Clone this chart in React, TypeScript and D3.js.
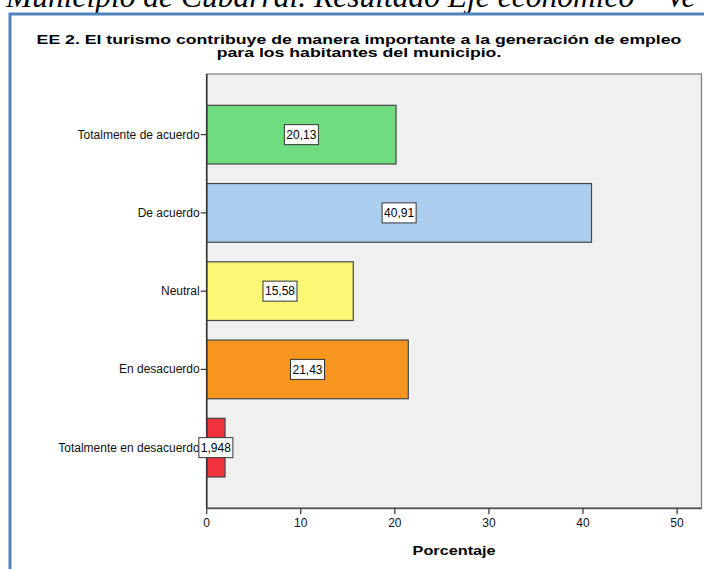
import React, { useEffect, useRef } from "react";
import * as d3 from "d3";

const categories = [
  "Totalmente de acuerdo",
  "De acuerdo",
  "Neutral",
  "En desacuerdo",
  "Totalmente en desacuerdo",
];
const values = [20.13, 40.91, 15.58, 21.43, 1.948];
const valueLabels = ["20,13", "40,91", "15,58", "21,43", "1,948"];
const barColors = ["#70dc80", "#abcdee", "#faf875", "#f7961e", "#f0323c"];
const xTicks = [0, 10, 20, 30, 40, 50];
const xMax = 52.6;
const titleLines = [
  "EE 2. El turismo contribuye de manera importante a la generación de empleo",
  "para los habitantes del municipio.",
];
const pageHeading = "Municipio de Cubarral. Resultado Eje económico – Ve";
const xAxisTitle = "Porcentaje";

const W = 704;
const H = 569;
const plot = { left: 206.7, right: 701.5, top: 74, bottom: 508.3 };
const SANS = "'Liberation Sans', Arial, sans-serif";

export default function App() {
  const ref = useRef<SVGSVGElement | null>(null);

  useEffect(() => {
    const svg = d3.select(ref.current);
    svg.selectAll("*").remove();

    svg.append("rect").attr("width", W).attr("height", H).attr("fill", "#ffffff");

    // page heading (cut off by the page top)
    svg
      .append("text")
      .attr("x", 6)
      .attr("y", 6.5)
      .attr("font-family", "'Liberation Serif', 'Times New Roman', serif")
      .attr("font-style", "italic")
      .attr("font-size", 31.5)
      .attr("fill", "#000")
      .text(pageHeading);

    // blue frame
    svg
      .append("rect")
      .attr("x", 10)
      .attr("y", 14)
      .attr("width", W + 40)
      .attr("height", H + 40)
      .attr("fill", "#ffffff")
      .attr("stroke", "#4f81bd")
      .attr("stroke-width", 3);

    // title
    titleLines.forEach((line, i) => {
      svg
        .append("g")
        .attr("transform", `translate(359,${43.5 + i * 13.5}) scale(1.36,1)`)
        .append("text")
        .attr("text-anchor", "middle")
        .attr("font-family", SANS)
        .attr("font-weight", "bold")
        .attr("font-size", 13)
        .attr("fill", "#000")
        .text(line);
    });

    const x = d3.scaleLinear().domain([0, xMax]).range([plot.left, plot.right]);
    const y = d3
      .scaleBand<string>()
      .domain(categories)
      .range([plot.top, plot.bottom])
      .paddingInner(0.25)
      .paddingOuter(0.4);

    // plot background
    svg
      .append("rect")
      .attr("x", plot.left)
      .attr("y", plot.top)
      .attr("width", plot.right - plot.left)
      .attr("height", plot.bottom - plot.top)
      .attr("fill", "#f0f0f0")
      .attr("stroke", "#7a7a7a")
      .attr("stroke-width", 1.2);

    // bars
    svg
      .append("g")
      .selectAll("rect")
      .data(categories)
      .join("rect")
      .attr("x", x(0))
      .attr("y", (d) => y(d)!)
      .attr("width", (_d, i) => x(values[i]) - x(0))
      .attr("height", y.bandwidth())
      .attr("fill", (_d, i) => barColors[i])
      .attr("stroke", "#474747")
      .attr("stroke-width", 1.2);

    // axis lines
    svg
      .append("line")
      .attr("x1", plot.left)
      .attr("x2", plot.left)
      .attr("y1", plot.top)
      .attr("y2", plot.bottom)
      .attr("stroke", "#333")
      .attr("stroke-width", 1.6);
    svg
      .append("line")
      .attr("x1", plot.left)
      .attr("x2", plot.right)
      .attr("y1", plot.bottom)
      .attr("y2", plot.bottom)
      .attr("stroke", "#555")
      .attr("stroke-width", 1.8);

    // y ticks + labels
    const yAxis = svg.append("g");
    categories.forEach((c) => {
      const cy = y(c)! + y.bandwidth() / 2;
      yAxis
        .append("line")
        .attr("x1", plot.left - 6)
        .attr("x2", plot.left)
        .attr("y1", cy)
        .attr("y2", cy)
        .attr("stroke", "#333")
        .attr("stroke-width", 1.2);
      yAxis
        .append("text")
        .attr("x", plot.left - 7)
        .attr("y", cy + 4)
        .attr("text-anchor", "end")
        .attr("font-family", SANS)
        .attr("font-size", 12)
        .attr("fill", "#111")
        .text(c);
    });

    // x ticks + labels
    const xAxis = svg.append("g");
    xTicks.forEach((t) => {
      xAxis
        .append("line")
        .attr("x1", x(t))
        .attr("x2", x(t))
        .attr("y1", plot.bottom)
        .attr("y2", plot.bottom + 6)
        .attr("stroke", "#333")
        .attr("stroke-width", 1.2);
      xAxis
        .append("text")
        .attr("x", x(t))
        .attr("y", plot.bottom + 19)
        .attr("text-anchor", "middle")
        .attr("font-family", SANS)
        .attr("font-size", 12)
        .attr("fill", "#111")
        .text(String(t));
    });

    // x axis title
    svg
      .append("g")
      .attr("transform", `translate(${(plot.left + plot.right) / 2},555) scale(1.25,1)`)
      .append("text")
      .attr("text-anchor", "middle")
      .attr("font-family", SANS)
      .attr("font-weight", "bold")
      .attr("font-size", 13)
      .attr("fill", "#000")
      .text(xAxisTitle);

    // value labels
    const vl = svg.append("g");
    categories.forEach((c, i) => {
      const cx = (x(0) + x(values[i])) / 2;
      const cy = y(c)! + y.bandwidth() / 2;
      const g = vl.append("g");
      const rect = g.append("rect");
      const txt = g
        .append("text")
        .attr("x", cx)
        .attr("y", cy + 4.2)
        .attr("text-anchor", "middle")
        .attr("font-family", SANS)
        .attr("font-size", 12)
        .attr("fill", "#000")
        .text(valueLabels[i]);
      const bw = (txt.node() as SVGTextElement).getComputedTextLength() + 4;
      rect
        .attr("x", cx - bw / 2)
        .attr("y", cy - 10)
        .attr("width", bw)
        .attr("height", 20)
        .attr("fill", "#ffffff")
        .attr("stroke", "#333")
        .attr("stroke-width", 1);
    });
  }, []);

  return (
    <svg
      ref={ref}
      width={W}
      height={H}
      style={{ position: "absolute", left: 0, top: 0, display: "block" }}
    />
  );
}
